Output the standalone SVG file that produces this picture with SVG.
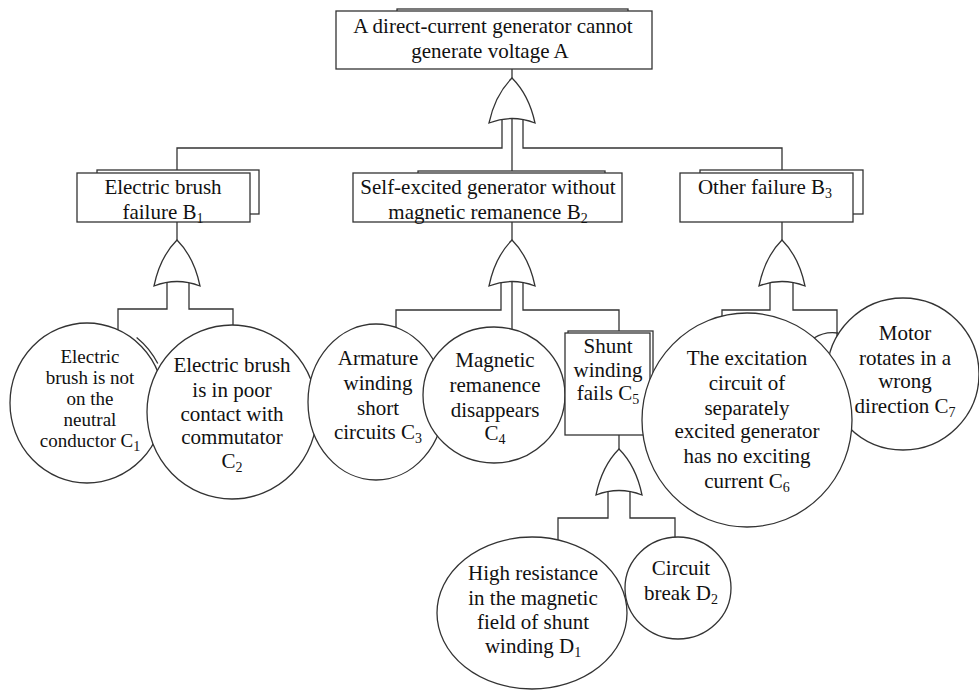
<svg xmlns="http://www.w3.org/2000/svg" width="979" height="691" viewBox="0 0 979 691" font-family="Liberation Serif, DejaVu Serif, serif">
<style>
.n { fill:#fff; stroke:#333; stroke-width:1.3 }
.c { fill:none; stroke:#333; stroke-width:1.3 }
.g { fill:#fff; stroke:#333; stroke-width:1.3 }
text { font-size:21px; fill:#111; text-anchor:middle }
.s { font-size:14px }
.t { font-size:19px }
</style>
<rect width="979" height="691" fill="#fff"/>
<g id="connectors">
  <path class="c" d="M512,69 V80"/>
  <path class="c" d="M502,112 V148 H177 V172"/>
  <path class="c" d="M512,112 V175"/>
  <path class="c" d="M523,112 V148 H782 V172"/>
  <path class="c" d="M177,222 V242"/>
  <path class="c" d="M167,276 V309 H118 V340"/>
  <path class="c" d="M189,276 V309 H233 V340"/>
  <path class="c" d="M512,222 V242"/>
  <path class="c" d="M501,276 V310 H396 V340"/>
  <path class="c" d="M512,276 V340"/>
  <path class="c" d="M523,276 V310 H619 V333"/>
  <path class="c" d="M782,222 V242"/>
  <path class="c" d="M770,276 V310 H722 V325"/>
  <path class="c" d="M793,276 V310 H837 V345"/>
  <path class="c" d="M619,435 V451"/>
  <path class="c" d="M608,485 V518 H558 V550"/>
  <path class="c" d="M630,485 V518 H675 V550"/>
</g>
<g id="gate_A"><path class="g" d="M512,78 Q529,95 535,123 Q512,114 489,123 Q495,95 512,78 Z"/></g>
<g id="gate_B1"><path class="g" d="M177,240 Q194,257 200,286 Q177,277 154,286 Q160,257 177,240 Z"/></g>
<g id="gate_B2"><path class="g" d="M512,240 Q529,257 535,286 Q512,277 489,286 Q495,257 512,240 Z"/></g>
<g id="gate_B3"><path class="g" d="M782,240 Q799,257 805,286 Q782,277 759,286 Q765,257 782,240 Z"/></g>
<g id="gate_C5"><path class="g" d="M619,449 Q636,466 642,495 Q619,486 596,495 Q602,466 619,449 Z"/></g>

<g id="node_A">
  <rect class="n" x="397" y="9" width="231" height="40"/>
  <rect class="n" x="336" y="11" width="316" height="58"/>
  <text x="493" y="33">A direct-current generator cannot</text>
  <text x="490" y="58">generate voltage A</text>
</g>
<g id="node_B1">
  <rect class="n" x="97" y="170" width="162" height="44"/>
  <rect class="n" x="77" y="173" width="173" height="49"/>
  <text x="163" y="194">Electric brush</text>
  <text x="163" y="219">failure B<tspan class="s" dy="4">1</tspan></text>
</g>
<g id="node_B2">
  <rect class="n" x="418" y="171" width="187" height="40"/>
  <rect class="n" x="353" y="173" width="269" height="49"/>
  <text x="488" y="194">Self-excited generator without</text>
  <text x="488" y="219">magnetic remanence B<tspan class="s" dy="4">2</tspan></text>
</g>
<g id="node_B3">
  <rect class="n" x="700" y="170" width="163" height="44"/>
  <rect class="n" x="680" y="173" width="173" height="49"/>
  <text x="765" y="194">Other failure B<tspan class="s" dy="4">3</tspan></text>
</g>
<g id="node_C1">
  <path class="c" d="M136.6,337.4 A79 82 0 0 1 157.8,363.5"/>
  <ellipse class="n" cx="87" cy="403" rx="77" ry="80"/>
  <text class="t" x="90" y="363">Electric</text>
  <text class="t" x="90" y="384">brush is not</text>
  <text class="t" x="90" y="405">on the</text>
  <text class="t" x="90" y="426">neutral</text>
  <text class="t" x="90" y="447">conductor C<tspan class="s" dy="4">1</tspan></text>
</g>
<g id="node_C2">
  <ellipse class="n" cx="232" cy="412" rx="85" ry="87"/>
  <text x="232" y="372">Electric brush</text>
  <text x="232" y="397">is in poor</text>
  <text x="232" y="421">contact with</text>
  <text x="232" y="444">commutator</text>
  <text x="232" y="468">C<tspan class="s" dy="4">2</tspan></text>
</g>
<g id="node_C3">
  <ellipse class="n" cx="376" cy="402" rx="68" ry="78"/>
  <text x="378" y="365">Armature</text>
  <text x="378" y="390">winding</text>
  <text x="378" y="415">short</text>
  <text x="378" y="439">circuits C<tspan class="s" dy="4">3</tspan></text>
</g>
<g id="node_C4">
  <ellipse class="n" cx="494" cy="395" rx="71" ry="68"/>
  <text x="495" y="367">Magnetic</text>
  <text x="495" y="392">remanence</text>
  <text x="495" y="417">disappears</text>
  <text x="495" y="440">C<tspan class="s" dy="4">4</tspan></text>
</g>
<g id="node_C5">
  <rect class="n" x="568" y="331" width="85" height="100"/>
  <rect class="n" x="565" y="333" width="85" height="102"/>
  <text x="608" y="353">Shunt</text>
  <text x="608" y="377">winding</text>
  <text x="608" y="400">fails C<tspan class="s" dy="4">5</tspan></text>
</g>
<g id="node_C7">
  <path class="c" d="M814,338 Q825,331 838,333"/>
  <ellipse class="n" cx="903" cy="374" rx="76" ry="76"/>
  <text x="905" y="340">Motor</text>
  <text x="905" y="365">rotates in a</text>
  <text x="905" y="388">wrong</text>
  <text x="905" y="413">direction C<tspan class="s" dy="4">7</tspan></text>
</g>
<g id="node_C6">
  <ellipse class="n" cx="747" cy="420" rx="105" ry="107"/>
  <text x="747" y="365">The excitation</text>
  <text x="747" y="390">circuit of</text>
  <text x="747" y="415">separately</text>
  <text x="747" y="438">excited generator</text>
  <text x="747" y="463">has no exciting</text>
  <text x="747" y="488">current C<tspan class="s" dy="4">6</tspan></text>
</g>
<g id="node_D1">
  <ellipse class="n" cx="532" cy="613" rx="95" ry="76"/>
  <text x="533" y="580">High resistance</text>
  <text x="533" y="605">in the magnetic</text>
  <text x="533" y="629">field of shunt</text>
  <text x="533" y="653">winding D<tspan class="s" dy="4">1</tspan></text>
</g>
<g id="node_D2">
  <ellipse class="n" cx="678" cy="588" rx="53" ry="51"/>
  <text x="681" y="575">Circuit</text>
  <text x="681" y="600">break D<tspan class="s" dy="4">2</tspan></text>
</g>
</svg>
